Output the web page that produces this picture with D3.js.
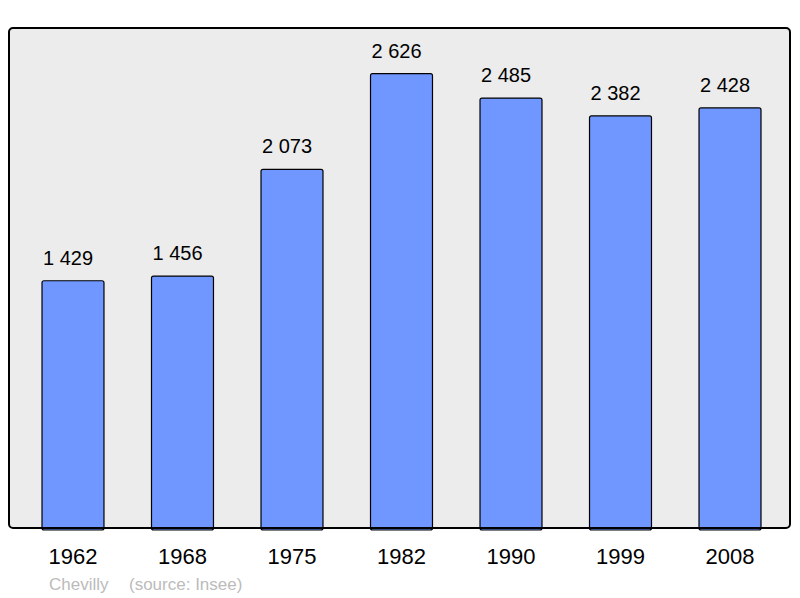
<!DOCTYPE html>
<html>
<head>
<meta charset="utf-8">
<script src="https://cdn.jsdelivr.net/npm/d3@7"></script>
<style>
  body { margin: 0; background: #fff; }
  svg { display: block; font-family: "Liberation Sans", Arial, sans-serif; }
</style>
</head>
<body>
<svg width="800" height="598"></svg>
<script>
// Population of Chevilly (source: Insee)
const years = ["1962", "1968", "1975", "1982", "1990", "1999", "2008"];
const population = [1429, 1456, 2073, 2626, 2485, 2382, 2428];
const placeName = "Chevilly";
const sourceNote = "(source: Insee)";

const svg = d3.select("svg");

// Panel box
const panel = { left: 9, right: 790, top: 28, bottom: 528 };

// X and Y scale
const xScale = d3.scaleBand()
  .domain(years)
  .range([42, 761])
  .paddingInner(0.434)
  .paddingOuter(0);

const yScale = d3.scaleLinear()
  .domain([0, 2890])
  .range([panel.bottom, panel.top]);

// Background panel
svg.append("rect")
  .attr("x", panel.left)
  .attr("y", panel.top)
  .attr("width", panel.right - panel.left)
  .attr("height", panel.bottom - panel.top)
  .attr("rx", 4)
  .attr("fill", "#ececec")
  .attr("stroke", "none");

// Bars
const data = years.map((y, i) => ({ year: y, value: population[i] }));

svg.append("g")
  .attr("class", "bars")
  .selectAll("rect")
  .data(data)
  .join("rect")
  .attr("x", d => xScale(d.year))
  .attr("y", d => yScale(d.value))
  .attr("width", xScale.bandwidth())
  .attr("height", d => yScale(0) - yScale(d.value) + 2)
  .attr("rx", 2)
  .attr("fill", "#7096ff")
  .attr("stroke", "#000")
  .attr("stroke-width", 1.2);

// Value labels (slightly left of bar centre, as in the original)
svg.append("g")
  .style("font-size", "20px")
  .style("fill", "#000")
  .style("text-anchor", "middle")
  .selectAll("text")
  .data(data)
  .join("text")
  .attr("x", d => xScale(d.year) + xScale.bandwidth() / 2 - 5)
  .attr("y", d => yScale(d.value) - 16)
  .text(d => d3.format(",")(d.value).replace(",", " "));

// Panel border drawn on top
svg.append("rect")
  .attr("x", panel.left)
  .attr("y", panel.top)
  .attr("width", panel.right - panel.left)
  .attr("height", panel.bottom - panel.top)
  .attr("rx", 4)
  .attr("fill", "none")
  .attr("stroke", "#000")
  .attr("stroke-width", 2);

// X axis (year labels)
const xAxis = g => g
  .attr("transform", `translate(0,${panel.bottom})`)
  .call(d3.axisBottom(xScale).tickSize(0).tickPadding(20))
  .call(g => g.select(".domain").remove())
  .call(g => g.selectAll("text")
    .attr("font-family", "Liberation Sans, Arial, sans-serif")
    .attr("font-size", 22)
    .attr("dy", null)
    .attr("y", 36)
    .attr("fill", "#000"));

svg.append("g").call(xAxis);

// Footer
svg.append("text")
  .attr("x", 49)
  .attr("y", 590)
  .attr("font-size", 17)
  .attr("fill", "#bbbbbb")
  .text(placeName);

svg.append("text")
  .attr("x", 129)
  .attr("y", 590)
  .attr("font-size", 17)
  .attr("fill", "#bbbbbb")
  .text(sourceNote);
</script>
</body>
</html>
